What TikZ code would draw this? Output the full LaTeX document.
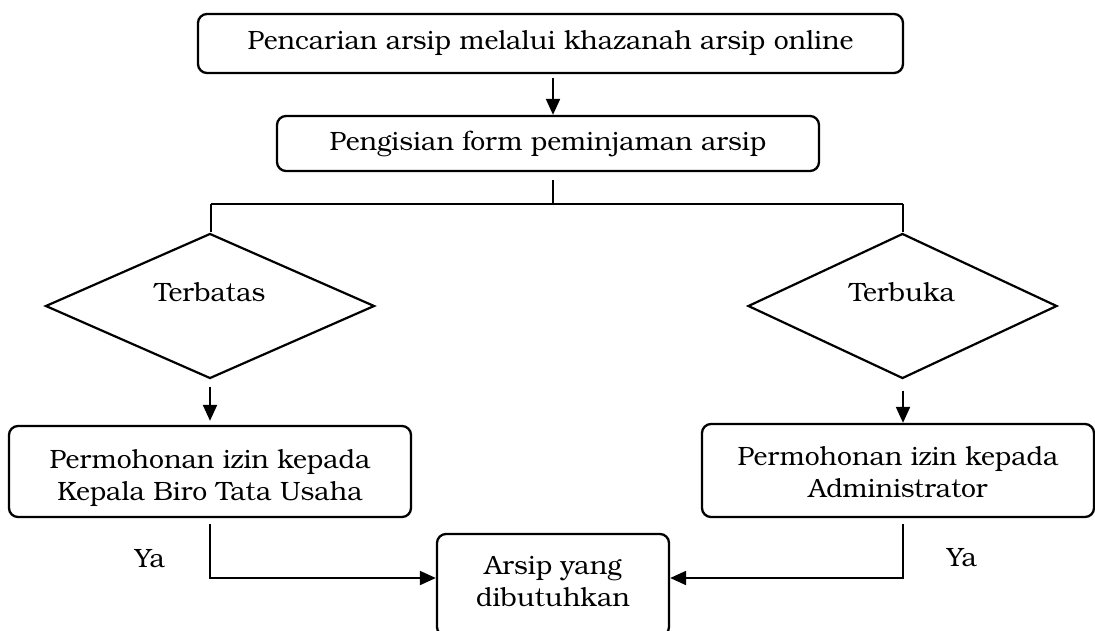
\documentclass[tikz,border=0pt]{standalone}
\usepackage{fontspec}
\setmainfont{texgyrebonum}[Extension=.otf, UprightFont=*-regular]
\usetikzlibrary{shapes.geometric,arrows.meta}
\begin{document}
\begin{tikzpicture}[x=1pt,y=-1pt,
  txt/.style={inner sep=0pt, align=center, font=\fontsize{26.5}{32}\selectfont},
  box/.style={txt, draw, rounded corners=9pt, line width=2.3pt},
  dia/.style={diamond, draw, line width=2.2pt, inner sep=0pt},
  arr/.style={-{Triangle[length=16pt,width=14pt]}, line width=2pt},
  thinln/.style={line width=1.5pt},
  hln/.style={line width=2.3pt}]
\useasboundingbox (0,0) rectangle (1095,630);
\clip (0,0) rectangle (1095,630);
% nodes
\node[box, minimum width=705pt, minimum height=59pt] (top) at (550.5,43.5) {Pencarian arsip melalui khazanah arsip online};
\node[box, minimum width=542pt, minimum height=55pt] (form) at (548,143.5) {Pengisian form peminjaman arsip};
\coordinate (sp) at (553,204);
\coordinate (sl) at (211,204);
\coordinate (sr) at (903,204);
\node[dia, minimum width=329pt, minimum height=145pt] (d1) at (210,306) {};
\node[txt] (t1) at (210,292) {Terbatas};
\node[dia, minimum width=309pt, minimum height=145pt] (d2) at (902.5,306) {};
\node[txt] (t2) at (902,292) {Terbuka};
\node[box, minimum width=402pt, minimum height=91pt] (b1) at (210,471.5) {\raisebox{-7pt}[\height][\depth]{\begin{tabular}{@{}c@{}}Permohonan izin kepada\\Kepala Biro Tata Usaha\end{tabular}}};
\node[box, minimum width=392pt, minimum height=93pt] (b2) at (898,470.5) {\raisebox{-5pt}[\height][\depth]{\begin{tabular}{@{}c@{}}Permohonan izin kepada\\Administrator\end{tabular}}};
\node[box, minimum width=232pt, minimum height=102pt] (res) at (553,585) {\raisebox{1pt}[\height][\depth]{\begin{tabular}{@{}c@{}}Arsip yang\\dibutuhkan\end{tabular}}};
\coordinate (rin) at (553,578);
\node[txt] (ya1) at (150,559) {Ya};
\node[txt] (ya2) at (962,558) {Ya};
% connectors
\draw[arr, shorten <=4pt] (top.south -| sp) -- (form.north -| sp);
\draw[thinln, shorten <=8pt] (form.south -| sp) -- (sp);
\draw[hln] (sl) -- (sr);
\draw[thinln] (sl) -- (sl |- d1.north);
\draw[thinln] (sr) -- (sr |- d2.north);
\draw[arr, shorten <=7pt, shorten >=4pt] (d1.south) -- (b1.north);
\draw[arr, shorten <=11pt] (d2.south -| sr) -- (b2.north -| sr);
\draw[arr, shorten <=6pt] (b1.south) |- (rin -| res.west);
\draw[arr, shorten <=6pt] (b2.south -| sr) |- (rin -| res.east);
\end{tikzpicture}
\end{document}
